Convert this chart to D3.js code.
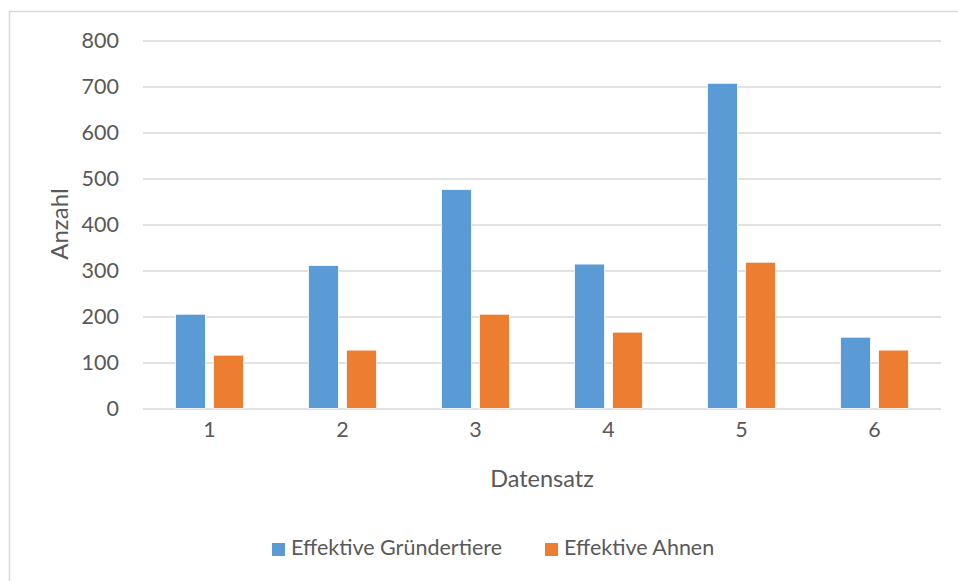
<!DOCTYPE html>
<html>
<head>
<meta charset="utf-8">
<script src="https://cdn.jsdelivr.net/npm/d3@7"></script>
<style>
  html, body { margin: 0; padding: 0; background: #fff; }
  svg { display: block; }
  text { font-family: Lato, "Open Sans", sans-serif; fill: #595959; }
</style>
</head>
<body>
<script>
// Datensätze und Reihen
const categories = ["1", "2", "3", "4", "5", "6"];
const seriesNames = ["Effektive Gründertiere", "Effektive Ahnen"];
const gruendertiere = [205, 311, 476, 314, 707, 155];
const ahnen = [116, 127, 205, 166, 318, 127];
const yTicks = [0, 100, 200, 300, 400, 500, 600, 700, 800];
const colors = ["#5B9BD5", "#ED7D31"];

const seriesValues = [gruendertiere, ahnen];
const rows = categories.map((c, i) => ({
  cat: c,
  vals: seriesNames.map((s, k) => ({ key: s, value: seriesValues[k][i] }))
}));

const W = 958, H = 581;
const svg = d3.select("body").append("svg").attr("width", W).attr("height", H);

// Rahmen des Diagrammbereichs
svg.append("rect")
  .attr("x", 9.5).attr("y", 11.5)
  .attr("width", 1000).attr("height", 1000)
  .attr("fill", "#fff").attr("stroke", "#d9d9d9").attr("stroke-width", 1.5);

const plot = { left: 143, right: 941, top: 40.5, bottom: 408.5 };

const x0 = d3.scaleBand().domain(categories).range([plot.left, plot.right]).paddingInner(0).paddingOuter(0);
const groupPad = 32.5;
const x1 = d3.scaleBand().domain(seriesNames)
  .range([groupPad, x0.bandwidth() - groupPad]).paddingInner(0.21).paddingOuter(0);
const y = d3.scaleLinear().domain([0, 800]).range([plot.bottom, plot.top]);
const color = d3.scaleOrdinal().domain(seriesNames).range(colors);

// Gitternetzlinien
const yAxis = d3.axisLeft(y).tickValues(yTicks).tickSize(-(plot.right - plot.left)).tickPadding(24);
const gy = svg.append("g").attr("transform", `translate(${plot.left},0)`).call(yAxis);
gy.select(".domain").remove();
gy.selectAll(".tick line").attr("stroke", "#d9d9d9").attr("stroke-width", 1.6);
gy.selectAll(".tick text").style("font-size", "21.5px").attr("fill", "#595959");

// Balken
const groups = svg.append("g").selectAll("g").data(rows).join("g")
  .attr("transform", d => `translate(${x0(d.cat)},0)`);
groups.selectAll("rect").data(d => d.vals).join("rect")
  .attr("x", d => x1(d.key))
  .attr("y", d => y(d.value))
  .attr("width", x1.bandwidth())
  .attr("height", d => y(0) - y(d.value))
  .attr("fill", d => color(d.key))
  .attr("stroke", "#fff").attr("stroke-width", 0.8);

// Rubrikenachse
const xAxis = d3.axisBottom(x0).tickSize(0).tickPadding(13);
const gx = svg.append("g").attr("transform", `translate(0,${plot.bottom})`).call(xAxis);
gx.select(".domain").remove();
gx.selectAll(".tick text").style("font-size", "21.5px").attr("fill", "#595959");

// Achsentitel
svg.append("text")
  .attr("x", (plot.left + plot.right) / 2).attr("y", 481)
  .attr("text-anchor", "middle").attr("dominant-baseline", "middle")
  .style("font-size", "23.5px").text("Datensatz");
svg.append("text")
  .attr("transform", "translate(62,224) rotate(-90)")
  .attr("text-anchor", "middle").attr("dominant-baseline", "middle")
  .style("font-size", "24px").text("Anzahl");

// Legende
const legendItems = [{ name: seriesNames[0], x: 272 }, { name: seriesNames[1], x: 545 }];
const lg = svg.append("g").selectAll("g").data(legendItems).join("g")
  .attr("transform", d => `translate(${d.x},543)`);
lg.append("rect").attr("width", 13).attr("height", 13).attr("fill", d => color(d.name));
lg.append("text").attr("x", 19).attr("y", 7).attr("dominant-baseline", "middle")
  .style("font-size", "21.5px").text(d => d.name);
</script>
</body>
</html>
